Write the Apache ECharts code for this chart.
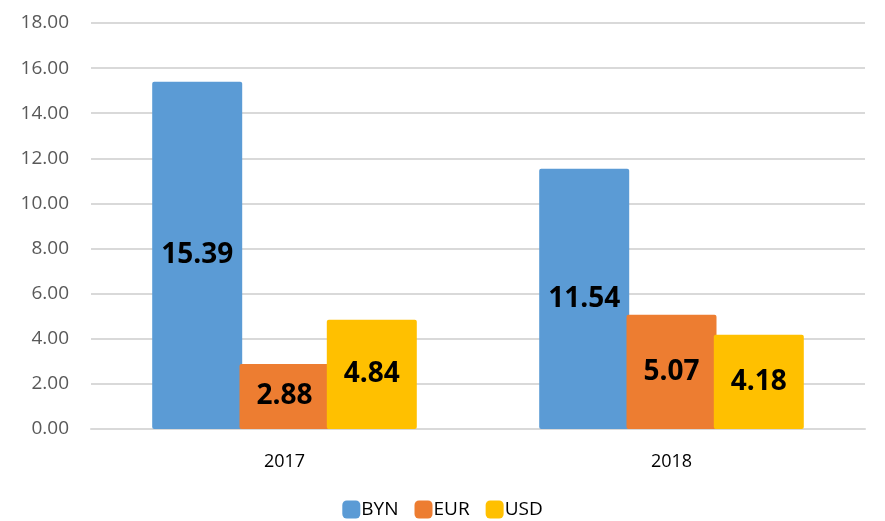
<!DOCTYPE html>
<html>
<head>
<meta charset="utf-8">
<script src="https://cdn.jsdelivr.net/npm/echarts@6/dist/echarts.min.js"></script>
<style>
  html, body { margin: 0; padding: 0; background: #fff; }
  #chart { width: 885px; height: 521px; }
</style>
</head>
<body>
<div id="chart"></div>
<script>
// данные
const years = ['2017', '2018'];
const byn = [15.39, 11.54];
const eur = [2.88, 5.07];
const usd = [4.84, 4.18];
const seriesNames = ['BYN', 'EUR', 'USD'];
const colors = ['#5B9BD5', '#ED7D31', '#FFC000'];

const chart = echarts.init(document.getElementById('chart'));

function barSeries(name, data, color) {
  return {
    name: name,
    type: 'bar',
    data: data,
    barWidth: 90,
    barGap: '-3%',
    itemStyle: {
      color: color,
      borderRadius: 2
    },
    label: {
      show: true,
      position: 'inside',
      formatter: p => p.value.toFixed(2),
      color: '#000',
      fontWeight: 'bold',
      fontSize: 28,
      fontFamily: 'Open Sans'
    }
  };
}

chart.setOption({
  animation: false,
  textStyle: { fontFamily: 'Open Sans' },
  grid: { left: 91, right: 20, top: 23, bottom: 92 },
  legend: {
    data: seriesNames,
    bottom: -3,
    left: 'center',
    itemWidth: 18,
    itemHeight: 18,
    itemGap: 16,
    icon: 'roundRect',
    textStyle: { color: '#000', fontSize: 19, padding: [0, 0, 0, -4] }
  },
  xAxis: {
    type: 'category',
    data: years,
    axisLine: { lineStyle: { color: '#d9d9d9', width: 2 } },
    axisTick: { show: false },
    axisLabel: { color: '#000', fontSize: 18, margin: 24 }
  },
  yAxis: {
    type: 'value',
    min: 0,
    max: 18,
    interval: 2,
    axisLine: { show: false },
    axisTick: { show: false },
    splitLine: { lineStyle: { color: '#d9d9d9', width: 2 } },
    axisLabel: {
      color: '#595959',
      fontSize: 19,
      margin: 22,
      formatter: v => v.toFixed(2)
    }
  },
  series: [
    barSeries('BYN', byn, colors[0]),
    barSeries('EUR', eur, colors[1]),
    barSeries('USD', usd, colors[2])
  ]
});
</script>
</body>
</html>
